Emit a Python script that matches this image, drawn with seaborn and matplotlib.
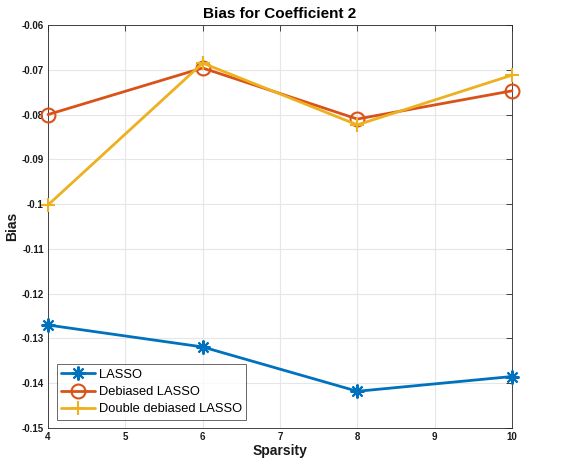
import matplotlib
matplotlib.use("Agg")
import matplotlib.pyplot as plt
import seaborn as sns
import pandas as pd

sparsity = [4, 6, 8, 10]
lasso = [-0.1270, -0.1319, -0.1418, -0.1385]
debiased = [-0.0800, -0.0696, -0.0810, -0.0747]
double_debiased = [-0.1002, -0.0685, -0.0823, -0.0712]
series_names = ["LASSO", "Debiased LASSO", "Double debiased LASSO"]
x_ticks = [4, 5, 6, 7, 8, 9, 10]
y_ticks = [-0.15, -0.14, -0.13, -0.12, -0.11, -0.1, -0.09, -0.08, -0.07, -0.06]
y_tick_labels = ["-0.15", "-0.14", "-0.13", "-0.12", "-0.11", "-0.1",
                 "-0.09", "-0.08", "-0.07", "-0.06"]

series_values = [lasso, debiased, double_debiased]
colors = ["#0072BD", "#D95319", "#EDB120"]
marker_styles = [(8, 2, 0), "o", "+"]

sns.set_style("white")
plt.rcParams["font.family"] = ["Liberation Sans", "DejaVu Sans"]
plt.rcParams["text.color"] = "black"

fig = plt.figure(figsize=(5.76, 4.63), dpi=100)
ax = fig.add_axes([0.0833, 0.0756, 0.8056, 0.8704])

for name, vals, col, mk in zip(series_names, series_values, colors, marker_styles):
    df = pd.DataFrame({"Sparsity": sparsity, "Bias": vals})
    sns.lineplot(data=df, x="Sparsity", y="Bias", ax=ax, color=col, label=name,
                 marker=mk, linewidth=2, markersize=10, markeredgewidth=1.5,
                 markerfacecolor="none", markeredgecolor=col, clip_on=False,
                 zorder=3)

ax.set_xlim(4, 10)
ax.set_ylim(-0.15, -0.06)
ax.set_xticks(x_ticks)
ax.set_yticks(y_ticks)
ax.set_yticklabels(y_tick_labels)
ax.tick_params(direction="in", length=4, width=0.6, color="#262626",
               labelsize=7, top=True, right=True, pad=3)
for lab in ax.get_xticklabels() + ax.get_yticklabels():
    lab.set_fontweight("bold")
    lab.set_color("#1a1a1a")
ax.grid(True, color="#e6e6e6", linewidth=0.8)
ax.set_axisbelow(True)
for sp in ax.spines.values():
    sp.set_color("#262626")
    sp.set_linewidth(0.6)

ax.set_title("Bias for Coefficient 2", fontsize=11, fontweight="bold", pad=5,
             color="black")
ax.set_xlabel("Sparsity", fontsize=10, fontweight="bold", labelpad=1,
              color="#1a1a1a")
ax.set_ylabel("Bias", fontsize=10, fontweight="bold", labelpad=2,
              color="#1a1a1a")

leg = ax.legend(loc="lower left", bbox_to_anchor=(0.019, 0.02), fontsize=9.3,
                frameon=True, fancybox=False, edgecolor="#262626",
                borderpad=0.35, labelspacing=0.4, handlelength=2.6,
                handletextpad=0.3, borderaxespad=0)
leg.get_frame().set_linewidth(0.6)
for t in leg.get_texts():
    t.set_color("black")

fig.savefig("out.png", dpi=100)
